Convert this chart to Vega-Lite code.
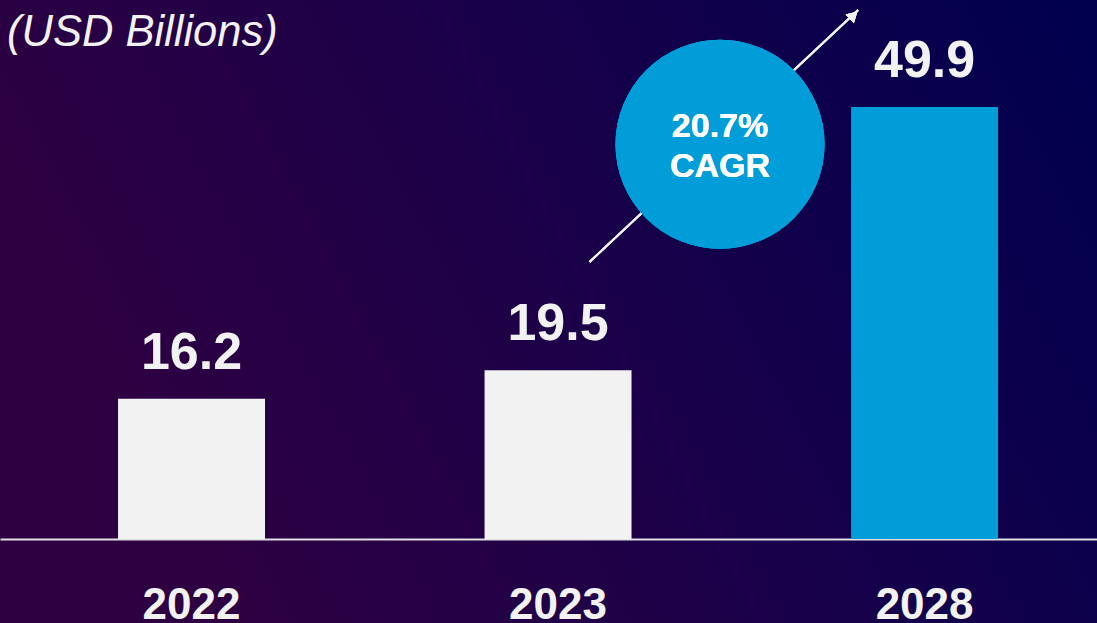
{
  "$schema": "https://vega.github.io/schema/vega-lite/v6.json",
  "width": 1097,
  "height": 623,
  "autosize": {"type": "none"},
  "padding": 0,
  "background": "#16004a",
  "view": {
    "stroke": null,
    "fill": {
      "gradient": "linear",
      "x1": 0, "y1": 0.3, "x2": 1, "y2": 0,
      "stops": [
        {"offset": 0, "color": "#2e0042"},
        {"offset": 0.5, "color": "#18004a"},
        {"offset": 1, "color": "#00004e"}
      ]
    }
  },
  "title": {
    "text": "(USD Billions)",
    "orient": "top",
    "anchor": "start",
    "frame": "group",
    "offset": -89,
    "dx": 7,
    "baseline": "alphabetic",
    "font": "Liberation Sans",
    "fontSize": 43.5,
    "fontStyle": "italic",
    "fontWeight": "normal",
    "color": "#f2f2f2"
  },
  "data": {
    "values": [
      {"year": "2022", "value": 16.2},
      {"year": "2023", "value": 19.5},
      {"year": "2028", "value": 49.9}
    ]
  },
  "encoding": {
    "x": {
      "field": "year",
      "type": "nominal",
      "sort": null,
      "scale": {"type": "band", "paddingInner": 0.599, "paddingOuter": 0.296, "align": 0.544},
      "axis": {
        "orient": "bottom",
        "offset": -84,
        "title": null,
        "labelAngle": 0,
        "ticks": false,
        "tickSize": 0,
        "domain": true,
        "domainColor": "#e0e0e0",
        "domainWidth": 2,
        "grid": false,
        "labelPadding": 79,
        "labelBaseline": "alphabetic",
        "labelFont": "Liberation Sans",
        "labelFontSize": 44,
        "labelFontWeight": "bold",
        "labelColor": "#f2f2f2"
      }
    }
  },
  "layer": [
    {
      "mark": {"type": "bar"},
      "encoding": {
        "y": {
          "field": "value",
          "type": "quantitative",
          "scale": {"domain": [-9.7, 62.26], "nice": false, "zero": false},
          "axis": null
        },
        "color": {
          "field": "year",
          "type": "nominal",
          "scale": {"domain": ["2022", "2023", "2028"], "range": ["#f2f2f2", "#f2f2f2", "#009dd9"]},
          "legend": null
        }
      }
    },
    {
      "mark": {
        "type": "text",
        "dy": -30,
        "baseline": "alphabetic",
        "align": "center",
        "font": "Liberation Sans",
        "fontSize": 52,
        "fontWeight": "bold",
        "color": "#f2f2f2"
      },
      "encoding": {
        "y": {"field": "value", "type": "quantitative"},
        "text": {"field": "value", "type": "quantitative", "format": ".1f"}
      }
    },
    {
      "mark": {"type": "rule", "color": "#f2f2f2", "strokeWidth": 2},
      "encoding": {
        "x": {"datum": "2023", "bandPosition": 0.714},
        "x2": {"datum": "2028", "bandPosition": 0.048},
        "y": {"datum": 32.0, "type": "quantitative"},
        "y2": {"datum": 61.1}
      }
    },
    {
      "mark": {"type": "point", "shape": "triangle-up", "filled": true, "color": "#f2f2f2", "opacity": 1, "angle": 47, "size": 150},
      "encoding": {
        "x": {"datum": "2028", "bandPosition": 0.017},
        "y": {"datum": 60.5, "type": "quantitative"}
      }
    },
    {
      "mark": {"type": "point", "shape": "circle", "filled": true, "color": "#009dd9", "opacity": 1, "size": 43700, "strokeWidth": 0},
      "encoding": {
        "x": {"datum": "2023", "bandPosition": 1.602},
        "y": {"datum": 45.6, "type": "quantitative"}
      }
    },
    {
      "mark": {
        "type": "text",
        "align": "center",
        "baseline": "alphabetic",
        "lineHeight": 40,
        "font": "Liberation Sans",
        "fontSize": 34,
        "fontWeight": "bold",
        "color": "#ffffff"
      },
      "encoding": {
        "x": {"datum": "2023", "bandPosition": 1.602},
        "y": {"datum": 46.44, "type": "quantitative"},
        "text": {"value": ["20.7%", "CAGR"]}
      }
    }
  ]
}
